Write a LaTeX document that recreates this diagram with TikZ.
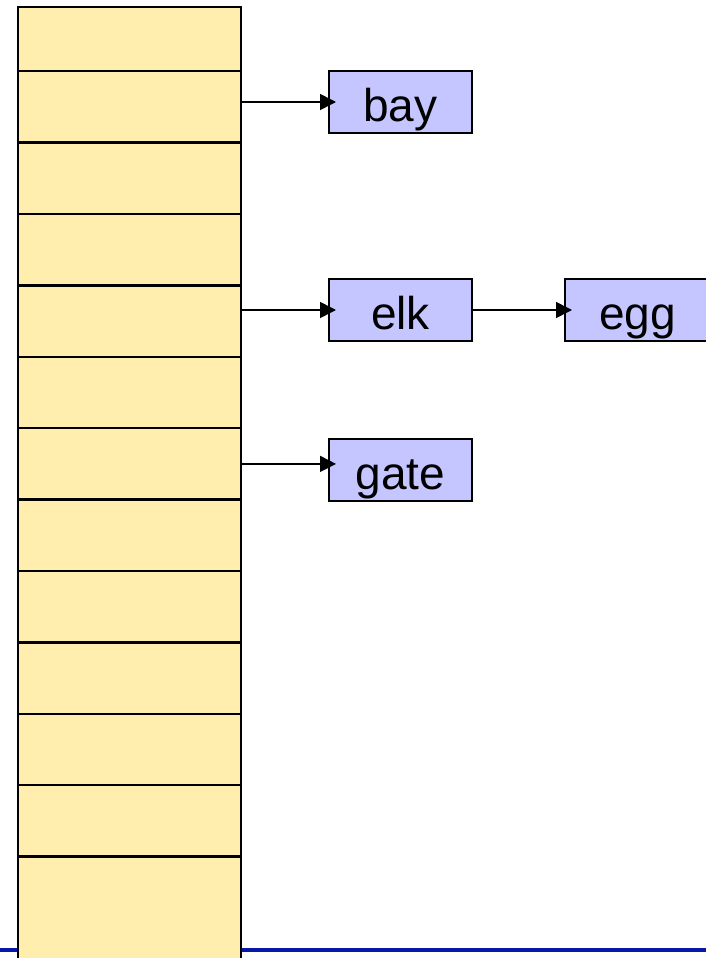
\documentclass[tikz,border=0pt]{standalone}
\usepackage{fontspec}
\setmainfont{Liberation Sans}
\usetikzlibrary{arrows.meta,positioning}
\definecolor{cellfill}{HTML}{FFEEAD}
\definecolor{boxfill}{HTML}{C5C5FF}
\definecolor{rulecol}{HTML}{0718A8}

\begin{document}
\begin{tikzpicture}[
      x=1pt, y=-1pt,
      every node/.style={font=\fontsize{46}{50}\selectfont},
      cell/.style={
        draw, line width=2.4pt, fill=cellfill, inner sep=0pt,
        minimum width=223pt, minimum height=71.4pt, anchor=north west
      },
      box/.style={
        draw, line width=2pt, fill=boxfill, inner xsep=0pt, inner ysep=0.5pt,
        minimum width=143pt, text height=50pt, text depth=11pt
      },
      arr/.style={-{Triangle[length=16pt,width=16pt]}, line width=1.6pt, shorten >=-8pt}
    ]
    \useasboundingbox (0,0) rectangle (706,958);
    % RULE
    \coordinate (ruleL) at (0,950);
    \coordinate (ruleR) at (706,950);
    \draw[rulecol, line width=4pt] (ruleL) -- (ruleR);

    % TABLE
    \node[cell, minimum height=64pt] (cell0) at (17,6) {};
    \foreach \i in {1,...,11}
      \node[cell] (cell\i) at (17,{70+71.4*(\i-1)}) {};
    \node[cell, minimum height=120pt] (cell12) at (17,855.4) {};

    % NODES
    \node[box] (bay) at (400.5,102) {bay};
    \node[box] (elk) at (400.5,310) {elk};
    \node[box, minimum width=145pt] (egg) at (637.5,310) {egg};
    \node[box] (gate) at (400.5,470) {gate};

    % ARROWS
    \draw[arr] (cell1.east |- bay.west) -- (bay.west);
    \draw[arr] (cell4.east |- elk.west) -- (elk.west);
    \draw[arr] (elk) -- (egg);
    \draw[arr] (cell6.east) -- (cell6.east -| gate.west);
  \end{tikzpicture}
\end{document}
